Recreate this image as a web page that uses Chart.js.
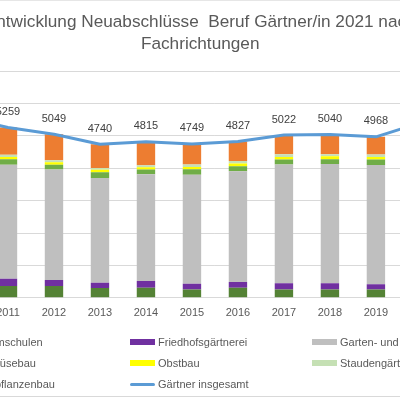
<!DOCTYPE html>
<html>
<head>
<meta charset="utf-8">
<script src="https://cdn.jsdelivr.net/npm/chart.js@4.4.1/dist/chart.umd.min.js"></script>
<style>
  html, body { margin:0; padding:0; width:400px; height:400px; overflow:hidden; background:#fff; }
  #wrap { position:absolute; left:-92.2px; top:0; width:584.4px; height:400px; }
  #legend { position:absolute; left:0; top:0; width:400px; height:400px; pointer-events:none; }
  .item { position:absolute; height:14px; display:flex; align-items:center; white-space:nowrap;
          font-family:'Liberation Sans', Arial, sans-serif; font-size:11px; color:#595959; }
  .sw { display:inline-block; width:25px; margin-right:3px; }
  #bline { position:absolute; left:0; top:396px; width:400px; height:1px; background:#d9d9d9; }
  #tline { position:absolute; left:0; top:0; width:400px; height:1px; background:#e6e6e6; }
</style>
</head>
<body>
<div id="tline"></div>
<div id="wrap"><canvas id="c"></canvas></div>
<div id="legend"></div>
<div id="bline"></div>
<script>
const years = ['2010','2011','2012','2013','2014','2015','2016','2017','2018','2019','2020','2021'];
const baumschulen      = [380, 365, 365, 303, 313, 260, 313, 260, 260, 260, 270, 265];
const friedhof         = [230, 226, 186, 164, 207, 176, 176, 186, 186, 155, 160, 150];
const galabau          = [3700, 3518, 3407, 3232, 3291, 3359, 3415, 3666, 3687, 3684, 3950, 3930];
const gemuesebau       = [180, 170, 146, 173, 146, 170, 155, 155, 142, 167, 170, 165];
const obstbau          = [70, 65, 80, 84, 72, 72, 84, 80, 93, 80, 80, 75];
const stauden          = [80, 75, 60, 50, 62, 74, 80, 84, 62, 74, 80, 75];
const zierpflanzen     = [940, 840, 805, 734, 724, 638, 604, 591, 610, 548, 705, 690];
const insgesamt        = [5580, 5259, 5049, 4740, 4815, 4749, 4827, 5022, 5040, 4968, 5415, 5350];
const yTicks           = [0, 1000, 2000, 3000, 4000, 5000, 6000, 7000];

const titleLines = ['Entwicklung Neuabschlüsse  Beruf Gärtner/in 2021 nach', 'Fachrichtungen'];

const FONT = "'Liberation Sans', Arial, sans-serif";
Chart.defaults.font.family = FONT;

function bar(label, data, color) {
  return { type:'bar', label, data, backgroundColor:color, borderWidth:0, stack:'s', order:1,
           categoryPercentage:1.0, barPercentage:0.4 };
}

const datasets = [
  bar('Baumschulen', baumschulen, '#548235'),
  bar('Friedhofsgärtnerei', friedhof, '#7030A0'),
  bar('Garten- und Landschaftsbau', galabau, '#BFBFBF'),
  bar('Gemüsebau', gemuesebau, '#70AD47'),
  bar('Obstbau', obstbau, '#FFFF00'),
  bar('Staudengärtnerei', stauden, '#C5E0B4'),
  bar('Zierpflanzenbau', zierpflanzen, '#ED7D31'),
  { type:'line', label:'Gärtner insgesamt', data:insgesamt, borderColor:'#5B9BD5', backgroundColor:'#5B9BD5',
    borderWidth:3, pointRadius:0, tension:0, fill:false, stack:'line', order:0,
    borderCapStyle:'round', borderJoinStyle:'round' }
];

const labelPlugin = {
  id:'valueLabels',
  afterDatasetsDraw(chart) {
    const idx = chart.data.datasets.length - 1;
    const meta = chart.getDatasetMeta(idx);
    const ctx = chart.ctx;
    ctx.save();
    ctx.font = '11px ' + FONT;
    ctx.fillStyle = '#404040';
    ctx.textAlign = 'center';
    ctx.textBaseline = 'middle';
    meta.data.forEach((pt, i) => {
      ctx.fillText(String(chart.data.datasets[idx].data[i]), pt.x, pt.y - 15.5);
    });
    ctx.restore();
  }
};

const chart = new Chart(document.getElementById('c'), {
  data: { labels: years, datasets },
  options: {
    responsive:true, maintainAspectRatio:false, animation:false,
    layout:{ padding:{ left:0, right:0, top:0, bottom:72.4 } },
    plugins:{
      legend:{ display:false },
      tooltip:{ enabled:false },
      title:{ display:true, text:titleLines, color:'#595959',
              font:{ size:17.2, weight:'normal', lineHeight:1.297 },
              padding:{ top:10.75, bottom:15.65 } }
    },
    scales:{
      x:{ stacked:true, grid:{ display:false, drawTicks:false },
          border:{ display:true, color:'#d9d9d9' },
          ticks:{ color:'#595959', font:{ size:11 }, padding:8.3 } },
      y:{ stacked:true, min:0, max:7000,
          afterBuildTicks(ax){ ax.ticks = yTicks.map(v => ({ value:v })); },
          afterFit(ax){ ax.width = 31; },
          grid:{ color:'#d9d9d9', drawTicks:false },
          border:{ display:false },
          ticks:{ display:true, color:'#595959', font:{ size:11 }, padding:6 } }
    }
  },
  plugins:[labelPlugin]
});

// HTML legend in a 3-column grid, built from the chart's legend items
const items = chart.options.plugins.legend.labels.generateLabels(chart)
  .sort((a, b) => a.datasetIndex - b.datasetIndex);
const colX = [-52, 130, 312];
const rowY = [342, 363, 384];
const lg = document.getElementById('legend');
items.forEach((it, i) => {
  const col = i % 3, row = Math.floor(i / 3);
  const d = document.createElement('div');
  d.className = 'item';
  d.style.left = colX[col] + 'px';
  d.style.top = (rowY[row] - 7) + 'px';
  const ds = chart.data.datasets[it.datasetIndex];
  const sw = document.createElement('span');
  sw.className = 'sw';
  const isLine = ds.type === 'line';
  sw.style.height = isLine ? '3px' : '6px';
  sw.style.background = isLine ? ds.borderColor : ds.backgroundColor;
  if (isLine) sw.style.borderRadius = '1.5px';
  const t = document.createElement('span');
  t.textContent = it.text;
  d.appendChild(sw); d.appendChild(t);
  lg.appendChild(d);
});
</script>
</body>
</html>
